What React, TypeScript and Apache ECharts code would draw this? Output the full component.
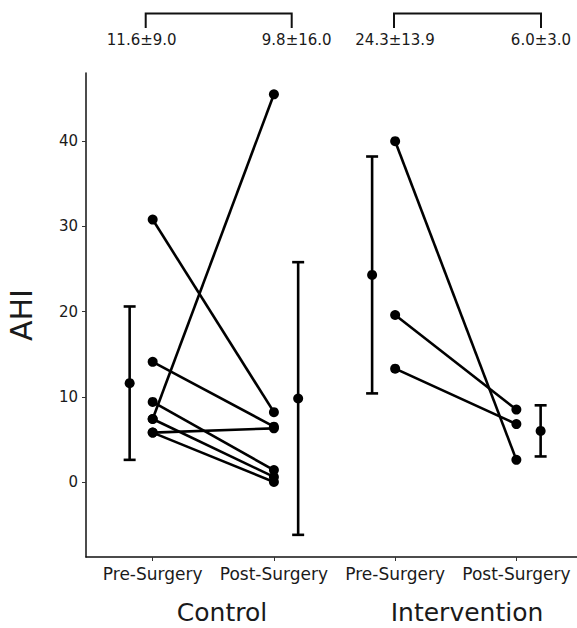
import React, { useEffect, useRef } from "react";
import * as echarts from "echarts";

// Paired AHI values per patient
const controlPre = [30.8, 14.1, 9.4, 7.4, 7.4, 5.8, 5.8];
const controlPost = [8.2, 6.5, 1.4, 45.5, 0.6, 6.3, 0.0];
const interventionPre = [40.0, 19.6, 13.3];
const interventionPost = [2.6, 8.5, 6.8];

// Summary (mean ± SD) per condition
const conditionLabels = ["Pre-Surgery", "Post-Surgery", "Pre-Surgery", "Post-Surgery"];
const groupLabels = ["Control", "Intervention"];
const meanVals = [11.6, 9.8, 24.3, 6.0];
const sdVals = [9.0, 16.0, 13.9, 3.0];
const summaryOffsets = [-0.19, 0.2, -0.19, 0.2];
const yTicks = [0, 10, 20, 30, 40];
const xTicks = [1, 2, 3, 4];

const FONT = "'DejaVu Sans', Verdana, sans-serif";

export default function App() {
  const ref = useRef<HTMLDivElement>(null);
  useEffect(() => {
    if (!ref.current) return;
    const chart = echarts.init(ref.current, undefined, { renderer: "svg" });

    const pairSeries: any[] = [];
    const addPairs = (pre: number[], post: number[], x0: number) => {
      pre.forEach((v, i) => {
        pairSeries.push({
          type: "line",
          data: [
            [x0, v],
            [x0 + 1, post[i]],
          ],
          symbol: "circle",
          symbolSize: 10,
          lineStyle: { color: "#000", width: 2.6 },
          itemStyle: { color: "#000" },
          z: 3,
        });
      });
    };
    addPairs(controlPre, controlPost, 1);
    addPairs(interventionPre, interventionPost, 3);

    const errData = meanVals.map((m, i) => [i + 1 + summaryOffsets[i], m, sdVals[i]]);

    const summaryText = (i: number) => `${meanVals[i].toFixed(1)}±${sdVals[i].toFixed(1)}`;
    const textCenters = [141.7, 296.7, 395, 541];
    const brackets = [
      [145.7, 291.7],
      [394, 541],
    ];

    const graphic: any[] = [];
    brackets.forEach(([a, b]) => {
      graphic.push({
        type: "polyline",
        shape: { points: [[a, 28], [a, 13.5], [b, 13.5], [b, 28]] },
        style: { stroke: "#111", lineWidth: 2, fill: null },
      });
    });
    textCenters.forEach((cx, i) => {
      graphic.push({
        type: "text",
        x: cx,
        y: 40,
        style: {
          text: summaryText(i),
          font: `15px ${FONT}`,
          fill: "#1a1a1a",
          align: "center",
          verticalAlign: "middle",
        },
      });
    });
    [222, 467].forEach((cx, i) => {
      graphic.push({
        type: "text",
        x: cx,
        y: 612,
        style: {
          text: groupLabels[i],
          font: `25px ${FONT}`,
          fill: "#1a1a1a",
          align: "center",
          verticalAlign: "middle",
        },
      });
    });

    chart.setOption({
      animation: false,
      backgroundColor: "#fff",
      grid: { left: 86, right: 0, top: 73, bottom: 71, containLabel: false, outerBoundsMode: "none" },
      xAxis: {
        type: "value",
        min: 0.45,
        max: 4.5,
        splitLine: { show: false },
        axisLine: { show: true, onZero: false, lineStyle: { color: "#111", width: 1.5 } },
        axisTick: { show: true, customValues: xTicks, length: 4, lineStyle: { color: "#333" } },
        axisLabel: {
          customValues: xTicks,
          formatter: (v: number) => conditionLabels[Math.round(v) - 1] ?? "",
          fontSize: 17,
          fontFamily: FONT,
          color: "#1a1a1a",
          margin: 8,
        },
      },
      yAxis: {
        type: "value",
        min: -8.8,
        max: 48,
        name: "AHI",
        nameLocation: "middle",
        nameRotate: 90,
        nameGap: 50,
        nameTextStyle: { fontSize: 30, fontFamily: FONT, color: "#1a1a1a" },
        splitLine: { show: false },
        axisLine: { show: true, onZero: false, lineStyle: { color: "#111", width: 1.5 } },
        axisTick: { show: true, customValues: yTicks, length: 4, lineStyle: { color: "#333" } },
        axisLabel: {
          customValues: yTicks,
          fontSize: 15,
          fontFamily: FONT,
          color: "#1a1a1a",
          margin: 8,
        },
      },
      graphic,
      series: [
        ...pairSeries,
        {
          type: "custom",
          data: errData,
          z: 4,
          renderItem: (params: any, api: any) => {
            const x = api.value(0);
            const m = api.value(1);
            const sd = api.value(2);
            const c = api.coord([x, m]);
            const top = api.coord([x, m + sd]);
            const bot = api.coord([x, m - sd]);
            const hw = 6;
            const st = { stroke: "#000", lineWidth: 2.6 };
            return {
              type: "group",
              children: [
                { type: "line", shape: { x1: c[0], y1: top[1], x2: c[0], y2: bot[1] }, style: st },
                { type: "line", shape: { x1: c[0] - hw, y1: top[1], x2: c[0] + hw, y2: top[1] }, style: st },
                { type: "line", shape: { x1: c[0] - hw, y1: bot[1], x2: c[0] + hw, y2: bot[1] }, style: st },
                { type: "circle", shape: { cx: c[0], cy: c[1], r: 5 }, style: { fill: "#000" } },
              ],
            };
          },
        },
      ],
    });
    return () => chart.dispose();
  }, []);
  return (
    <div
      ref={ref}
      style={{ position: "fixed", left: 0, top: 0, width: 577, height: 628 }}
    />
  );
}
